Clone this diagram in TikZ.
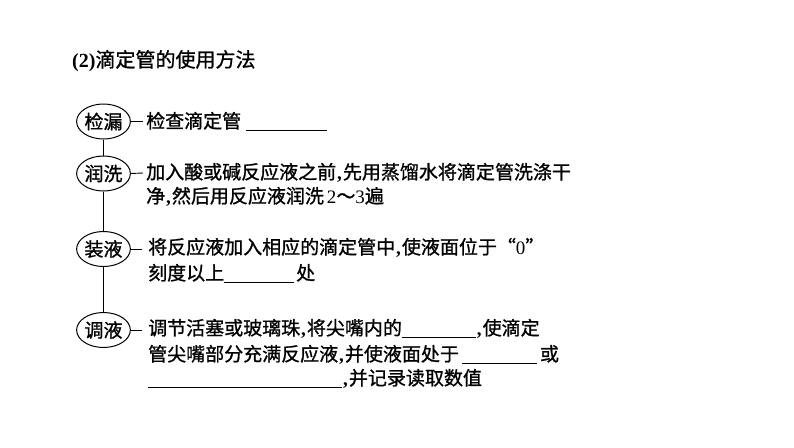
\documentclass[tikz,border=0pt]{standalone}
\usepackage{fontspec}
\setmainfont{Liberation Serif}
\newfontfamily\cjk[FakeBold=1]{Noto Sans CJK SC}
\usetikzlibrary{shapes.geometric}
\newcommand\blank[1]{\rule[-2.5pt]{#1}{0.9pt}}
\newcommand\cm{\hspace{1pt}{\rmfamily\bfseries,}\hspace{1pt}}
\newcommand\lat[1]{{\rmfamily #1}}
\begin{document}
\begin{tikzpicture}[x=1pt,y=-1pt,
  stage/.style={draw, ellipse, minimum width=53pt, minimum height=35pt, inner sep=0pt, line width=1pt, font=\cjk\fontsize{19}{19}\selectfont},
  txt/.style={anchor=base west, inner sep=0pt, font=\cjk\fontsize{19}{19}\selectfont},
  link/.style={line width=0.9pt}]
\useasboundingbox[fill=white] (0,0) rectangle (794,447);
\node[anchor=base west, inner sep=0pt, font=\fontsize{20}{20}\selectfont] (title) at (72,67) {{\bfseries (2)}{\cjk 滴定管的使用方法}};
\node[stage] (jl) at (103.5,121.5) {检漏};
\node[stage] (rx) at (103.5,173.5) {润洗};
\node[stage] (zy) at (103.5,249) {装液};
\node[stage] (ty) at (103.5,330) {调液};
\draw[link] (jl) -- (rx);
\draw[link] (rx) -- (zy);
\draw[link] (zy) -- (ty);
\coordinate (d1) at (143,121.5);
\coordinate (d2) at (143,173);
\coordinate (d3) at (142,249);
\coordinate (d4) at (142,330);
\draw[link] (jl.east) -- (d1);
\draw[link] (rx.east) -- (d2);
\draw[link] (zy.east) -- (d3);
\draw[link] (ty.east) -- (d4);
\node[txt] (t1) at (146,128) {检查滴定管\hspace{5pt}\blank{81pt}};
\node[txt] (t2a) at (146,179) {加入酸或碱反应液之前\cm 先用蒸馏水将滴定管洗涤干};
\node[txt] (t2b) at (146,203) {净\cm 然后用反应液润洗\hspace{3pt}\lat{2}～\lat{3}遍};
\node[txt] (t3a) at (148,254) {将反应液加入相应的滴定管中\cm 使液面位于“\lat{0}”};
\node[txt] (t3b) at (148,280) {刻度以上\blank{70pt}\hspace{2pt}处};
\node[txt] (t4a) at (148,335) {调节活塞或玻璃珠\cm 将尖嘴内的\blank{74pt}\cm 使滴定};
\node[txt] (t4b) at (148,361) {管尖嘴部分充满反应液\cm 并使液面处于\hspace{3pt}\blank{75pt}\hspace{3pt}或};
\node[txt] (t4c) at (148,385) {\blank{194pt}\cm 并记录读取数值};
\end{tikzpicture}
\end{document}
